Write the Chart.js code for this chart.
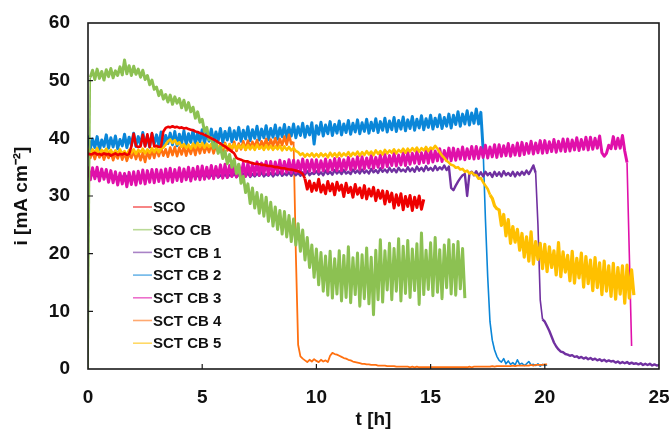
<!DOCTYPE html>
<html>
<head>
<meta charset="utf-8">
<script src="https://cdn.jsdelivr.net/npm/chart.js@4.4.1/dist/chart.umd.min.js"></script>
<style>
  html, body { margin: 0; padding: 0; background: #fff; }
  #wrap { width: 671px; height: 431px; }
</style>
</head>
<body>
<div id="wrap"><canvas id="chartdiv" width="671" height="431"></canvas></div>
<script>
// current density logged every 0.1 h, one row of values per hour
var stepH = 0.1;
var xTicks = [0, 5, 10, 15, 20, 25];
var yTicks = [0, 10, 20, 30, 40, 50, 60];

var labels = ['SCO', 'SCO CB', 'SCT CB 1', 'SCT CB 2', 'SCT CB 3', 'SCT CB 4', 'SCT CB 5'];

var sco = [
  37.4,37.2,37.3,37.5,37.2,37.3,37.1,37.4,37.2,37.3,
  37.0,37.2,37.4,37.1,37.3,37.2,37.4,37.1,37.3,38.6,
  40.8,38.7,38.5,38.6,40.6,38.6,40.7,38.5,40.9,38.6,
  38.7,38.5,38.6,41.2,41.8,42.0,41.9,42.1,41.9,42.0,
  41.8,41.9,41.7,41.8,41.6,41.5,41.4,41.2,41.1,40.9,
  40.8,40.6,40.4,40.2,40.0,39.8,39.6,39.3,39.1,38.8,
  38.6,38.3,38.0,37.7,37.4,36.6,36.4,36.3,36.1,36.0,
  36.0,35.8,35.7,35.6,35.6,35.5,35.4,35.4,35.3,35.2,
  35.2,35.1,35.0,35.0,34.9,34.8,34.8,34.7,34.6,34.6,
  34.5,34.4,34.3,34.1,33.8,33.0,31.2,32.6,30.8,32.2,
  31.0,32.9,30.7,31.9,30.4,32.5,30.9,32.1,30.2,32.4,
  31.0,31.9,29.9,32.2,30.6,31.5,29.8,32.0,30.3,31.4,
  29.7,31.8,29.5,31.2,30.0,31.5,29.2,31.0,29.6,30.9,
  28.6,30.8,29.0,30.5,27.9,30.2,28.4,30.4,27.6,29.9,
  28.2,30.1,27.5,29.8,28.0,30.0,27.7,29.4
];

var scoCb = [
  0.0,50.6,51.8,50.2,52.0,50.4,51.6,50.1,51.9,50.7,
  52.1,50.5,51.7,50.9,52.4,51.0,53.6,51.2,52.6,50.9,
  52.5,51.1,52.0,50.6,51.8,50.2,50.9,49.3,50.1,48.5,
  48.9,47.4,48.3,46.8,47.6,46.3,47.5,45.9,47.2,46.1,
  46.9,45.3,46.6,44.9,46.2,44.6,45.4,43.5,44.6,42.8,
  43.3,41.2,41.9,39.8,40.1,38.3,39.2,37.4,38.5,36.5,
  37.8,35.6,37.2,35.0,36.4,33.9,35.5,32.2,33.4,30.6,
  32.1,28.7,31.4,27.9,30.6,27.0,30.2,26.5,29.8,25.6,
  28.9,24.8,28.1,24.2,27.5,23.4,27.3,22.9,26.6,22.1,
  26.0,21.5,25.2,20.4,24.1,18.9,22.8,17.6,21.5,15.9,
  20.8,14.6,20.2,13.5,19.6,12.8,20.4,12.3,19.1,13.0,
  20.5,11.8,19.7,12.4,21.2,11.5,19.3,12.9,20.1,10.9,
  19.8,12.2,21.0,11.3,19.4,9.4,20.6,12.0,22.4,11.6,
  20.5,13.7,21.8,12.0,20.9,13.5,22.6,11.8,21.3,13.1,
  22.3,12.4,20.8,13.6,21.7,11.2,23.6,12.9,20.6,13.8,
  21.9,12.7,22.8,13.3,20.7,12.2,21.5,14.1,22.4,13.0,
  21.6,12.8,22.1,13.9,20.9,12.3
];

var sctCb1 = [
  33.8,33.2,33.9,33.3,33.7,33.1,33.8,33.4,33.6,33.0,
  33.7,33.2,33.5,33.0,33.6,33.1,33.8,33.2,33.5,33.0,
  33.6,33.1,33.7,33.2,33.5,33.0,33.8,33.3,33.6,33.1,
  33.7,33.2,33.6,33.0,33.8,33.3,33.5,33.1,33.7,33.2,
  33.6,33.1,33.8,33.3,33.5,33.0,33.7,33.2,33.6,33.1,
  33.8,33.2,33.6,33.1,33.7,33.3,33.9,33.2,33.6,33.3,
  33.8,33.2,33.7,33.4,33.9,33.3,33.7,33.2,33.9,33.4,
  34.0,33.3,33.8,33.4,33.9,33.5,34.1,33.4,33.8,33.5,
  34.0,33.4,33.9,33.6,34.2,33.5,33.9,33.6,34.1,33.5,
  34.2,33.6,34.0,33.5,34.1,33.7,34.3,33.6,34.0,33.8,
  34.3,33.7,34.1,33.6,34.4,33.8,34.2,33.7,34.5,33.9,
  34.3,33.8,34.5,33.9,34.2,33.8,34.6,34.0,34.4,33.9,
  34.6,34.0,34.4,33.9,34.7,34.1,34.5,34.0,34.8,34.2,
  34.6,34.1,34.9,34.2,34.7,34.1,34.9,34.3,34.6,34.2,
  35.0,34.3,34.8,34.2,35.1,34.4,34.9,34.3,35.2,34.5,
  34.9,34.4,35.2,34.5,35.0,34.6,35.3,34.5,35.1,31.4,
  31.0,31.8,32.5,33.1,33.6,33.8,30.0,33.9,34.2,33.6,
  34.3,33.5,34.1,33.4,34.2,33.6,34.0,33.3,34.2,33.5,
  34.1,33.4,34.3,33.6,34.0,33.5,34.2,33.4,34.1,33.6,
  34.2,33.7,34.4,33.8,34.5,35.3,34.0,25.0,12.0,8.6,
  8.2,7.4,6.6,5.6,4.6,3.9,3.4,3.0,2.9,2.6,
  2.5,2.3,2.4,2.1,2.2,1.9,2.1,1.8,2.0,1.7,
  1.9,1.6,1.8,1.5,1.7,1.4,1.6,1.3,1.5,1.3,
  1.4,1.1,1.3,1.0,1.2,1.0,1.2,0.9,1.1,0.9,
  1.0,0.8,1.0,0.7,0.9,0.7,0.9,0.6,0.8,0.6,
  0.7
];

var sctCb2 = [
  40.5,38.1,39.9,38.4,40.3,38.0,39.7,38.6,40.6,38.3,
  40.1,38.5,40.4,38.2,39.8,38.7,40.7,38.4,40.2,38.8,
  40.9,38.6,40.3,38.9,41.0,38.7,40.4,38.5,40.8,39.0,
  40.6,38.8,41.1,38.6,40.5,39.1,40.9,38.9,41.2,38.7,
  40.7,39.2,41.3,38.9,40.8,39.3,41.4,39.0,40.9,39.4,
  41.5,39.1,41.0,39.5,41.6,39.2,41.1,39.6,41.7,39.3,
  41.2,39.7,41.8,39.4,41.3,39.8,41.9,39.5,41.4,39.9,
  42.0,39.6,41.5,40.0,42.1,39.7,41.6,40.1,42.2,39.8,
  41.7,40.2,42.3,39.9,41.8,40.3,42.4,40.0,41.9,40.4,
  42.5,40.1,42.0,40.5,42.6,40.2,42.1,40.6,42.7,39.0,
  42.2,40.7,42.8,40.4,42.3,40.8,42.9,40.5,42.4,40.9,
  43.0,40.6,42.5,41.0,43.1,40.7,42.6,41.1,43.2,40.8,
  42.7,41.2,43.3,40.9,42.8,41.3,43.4,41.0,42.9,41.4,
  43.5,41.1,43.0,41.5,43.6,41.2,43.1,41.6,43.7,41.3,
  43.2,41.7,43.8,41.4,43.3,41.8,43.9,41.5,43.4,41.9,
  44.0,41.6,43.5,42.0,44.1,41.7,43.6,42.1,44.2,41.8,
  44.0,42.4,44.6,42.1,44.2,42.5,44.8,42.3,44.4,42.6,
  45.1,42.5,44.5,38.0,26.0,16.0,8.2,5.0,3.3,2.2,
  1.5,1.2,1.8,0.9,1.4,0.8,1.1,0.7,1.6,0.8,
  1.0,0.6,0.9,1.3,0.7,0.8,0.6,0.9,0.5,0.8,
  0.6,0.7
];

var sctCb3 = [
  35.1,32.8,34.9,33.0,35.0,32.6,34.7,32.9,34.6,32.4,
  34.4,32.3,34.2,31.9,34.0,32.1,33.9,31.6,34.1,32.0,
  34.2,31.9,34.3,32.2,34.5,32.1,34.4,32.4,34.6,32.3,
  34.6,32.5,34.5,32.2,34.7,32.6,34.8,32.4,34.6,32.7,
  34.9,32.5,34.7,32.8,35.0,32.6,34.8,32.9,35.1,32.8,
  35.2,32.9,35.0,33.1,35.3,33.0,35.1,33.3,35.4,33.1,
  35.5,33.2,35.3,33.4,35.6,33.3,35.4,33.6,35.7,33.4,
  35.7,33.5,35.6,33.7,35.9,33.6,35.7,33.8,36.0,33.7,
  36.0,33.8,35.9,34.0,36.2,33.9,36.0,34.1,36.3,34.0,
  36.2,34.1,36.1,34.2,36.4,34.1,36.2,34.3,36.3,34.2,
  36.3,34.2,36.1,34.4,36.4,34.3,36.2,34.5,36.5,34.4,
  36.5,34.4,36.3,34.6,36.7,34.5,36.4,34.7,36.8,34.6,
  36.8,34.7,36.6,34.9,37.0,34.8,36.7,35.0,37.1,34.9,
  37.2,35.1,37.0,35.3,37.4,35.2,37.1,35.4,37.5,35.3,
  37.6,35.5,37.4,35.7,37.8,35.6,37.5,35.8,37.9,35.7,
  38.0,35.9,37.8,36.1,38.2,36.0,37.9,36.2,38.3,36.1,
  38.3,36.2,38.1,36.4,38.5,36.3,38.2,36.5,38.6,36.4,
  38.6,36.5,38.4,36.7,38.8,36.6,38.5,36.8,38.9,36.7,
  38.9,36.9,38.7,37.0,39.1,36.9,38.8,37.1,39.2,37.0,
  39.3,37.2,39.1,37.4,39.5,37.3,39.2,37.5,39.6,37.4,
  39.6,37.5,39.4,37.7,39.8,37.6,39.5,37.8,39.9,37.7,
  39.9,37.8,39.7,38.0,40.1,37.9,39.8,38.1,40.2,38.0,
  40.2,38.1,40.0,38.3,40.4,37.5,36.9,37.4,38.8,38.2,
  40.3,38.2,40.0,38.3,40.5,37.8,35.8,20.0,4.0
];

var sctCb4 = [
  37.9,36.6,37.7,36.4,37.8,36.7,37.6,36.3,37.5,36.6,
  37.6,36.2,37.4,36.5,37.7,36.3,37.5,36.1,37.3,36.6,
  37.8,36.4,37.6,36.2,37.5,35.9,37.7,36.5,37.9,36.6,
  38.2,36.9,38.3,37.0,38.1,36.8,38.4,37.1,38.5,36.9,
  38.4,37.2,38.6,37.0,38.5,37.3,38.7,37.1,38.8,37.4,
  38.9,37.5,38.7,37.6,39.0,37.4,38.8,37.7,39.1,37.6,
  39.2,37.9,39.0,38.0,39.4,37.8,39.1,38.1,39.5,38.0,
  39.6,38.3,39.4,38.5,39.7,38.2,39.5,38.6,39.9,38.4,
  39.8,38.7,40.0,38.6,39.9,38.8,40.3,38.9,40.6,39.0,
  39.4,20.0,4.2,2.2,1.8,1.5,1.2,1.6,1.3,1.7,
  1.4,1.2,1.6,1.3,1.5,1.2,2.3,2.8,2.6,2.5,
  2.3,2.1,1.9,1.8,1.6,1.5,1.3,1.2,1.1,1.0,
  0.9,0.9,0.8,0.8,0.7,0.7,0.7,0.6,0.6,0.6,
  0.6,0.5,0.5,0.5,0.5,0.4,0.4,0.4,0.4,0.4,
  0.4,0.3,0.4,0.3,0.4,0.3,0.3,0.3,0.3,0.3,
  0.3,0.3,0.3,0.3,0.3,0.3,0.3,0.3,0.3,0.3,
  0.3,0.3,0.3,0.3,0.3,0.3,0.3,0.4,0.3,0.4,
  0.4,0.4,0.4,0.4,0.4,0.4,0.4,0.5,0.4,0.5,
  0.5,0.5,0.5,0.5,0.5,0.5,0.6,0.5,0.6,0.6,
  0.6,0.6,0.6,0.6,0.7,0.6,0.7,0.7,0.7,0.7,
  0.8,0.8
];

var sctCb5 = [
  38.2,37.4,38.1,37.5,38.3,37.3,38.0,37.6,38.2,37.4,
  38.0,37.2,37.9,37.4,38.1,37.3,37.8,37.1,38.0,37.5,
  38.1,37.3,38.0,37.6,38.2,37.4,38.1,37.5,38.3,37.6,
  38.4,37.6,38.2,38.4,38.9,39.5,39.8,39.2,39.7,39.0,
  39.3,38.5,39.0,38.3,38.9,38.2,39.1,38.4,39.2,38.5,
  39.2,38.4,39.1,38.5,39.0,38.3,39.1,38.2,38.9,38.4,
  39.0,38.2,38.9,38.3,39.0,38.1,38.8,38.3,38.9,38.0,
  38.8,38.1,38.7,38.0,38.9,38.2,38.6,38.0,38.8,38.1,
  38.7,38.0,38.6,38.1,38.7,37.9,38.6,38.0,38.5,37.9,
  38.3,37.8,37.6,37.1,37.4,36.8,37.3,36.9,37.4,36.8,
  37.3,36.8,37.4,36.9,37.3,36.7,37.5,36.9,37.4,36.8,
  37.5,36.9,37.4,37.0,37.6,36.9,37.5,37.1,37.7,37.0,
  37.6,37.1,37.8,37.2,37.7,37.1,37.9,37.3,37.8,37.2,
  38.0,37.4,37.9,37.5,38.1,37.4,38.0,37.6,38.2,37.5,
  38.2,37.7,38.3,37.8,38.4,37.7,38.3,37.9,38.5,37.8,
  38.4,38.1,38.7,38.2,37.6,37.0,36.6,36.1,35.8,35.4,
  35.3,34.9,35.0,34.6,34.7,34.2,34.4,33.9,34.1,33.7,
  33.6,33.0,33.1,32.4,31.8,31.2,30.2,29.6,28.3,27.8,
  27.6,24.9,26.8,23.1,25.9,21.8,24.7,22.0,24.2,20.6,
  23.5,19.4,22.9,18.7,23.8,18.2,22.1,19.0,21.8,17.4,
  21.6,16.9,21.2,17.6,20.5,16.3,21.9,16.0,20.3,16.8,
  19.7,15.3,20.4,14.9,19.2,15.8,20.1,14.2,19.5,14.8,
  18.9,13.6,19.3,14.1,18.4,12.9,18.7,13.5,17.9,12.6,
  18.3,12.1,17.6,13.0,17.9,11.4,18.0,12.3,17.2,12.8
];

var series = [sco, scoCb, sctCb1, sctCb2, sctCb3, sctCb4, sctCb5];
var lineColors = ['#ee0000', '#8cc152', '#7030a0', '#0a86d8', '#e010aa', '#ff7010', '#ffc000'];
// plain stroke width, plus a heavier stroke over the stretches where the trace is noisy
var baseWidths = [2.6, 1.6, 1.6, 1.6, 1.6, 1.8, 2.6];
var noisyWidths = [3.0, 3.0, 2.4, 3.0, 3.0, 2.6, 3.2];
var noisyRanges = [
  [[9.5, 99]],
  [[0.1, 99]],
  [[0, 19.6], [19.9, 99]],
  [[0, 17.25]],
  [[0, 23.55]],
  [[0, 9.0]],
  [[17.6, 99]]
];
var drawOrder = [0, 1, 4, 6, 3, 5, 2];

var FONT = '"Liberation Sans", Arial, sans-serif';

function toPoints(values) {
  return values.map(function (v, i) {
    return { x: Math.round(i * stepH * 10) / 10, y: v };
  });
}

function widthAt(i, t) {
  var hit = noisyRanges[i].some(function (r) { return t >= r[0] && t < r[1]; });
  return hit ? noisyWidths[i] : baseWidths[i];
}

var datasets = series.map(function (vals, i) {
  return {
    label: labels[i],
    data: toPoints(vals),
    borderColor: lineColors[i],
    borderWidth: baseWidths[i],
    borderJoinStyle: 'round',
    pointRadius: 0,
    tension: 0,
    fill: false,
    order: drawOrder[i],
    segment: {
      borderWidth: function (c) { return widthAt(i, c.p0.parsed.x); }
    }
  };
});

// frame around the plot plus short inward tick marks
var framePlugin = {
  id: 'frame',
  afterDatasetsDraw: function (chart) {
    var ctx = chart.ctx, a = chart.chartArea;
    var xs = chart.scales.x, ys = chart.scales.y;
    ctx.save();
    ctx.strokeStyle = '#1a1a1a';
    ctx.lineWidth = 1.6;
    ctx.strokeRect(a.left, a.top, a.right - a.left, a.bottom - a.top);
    ctx.lineWidth = 1.2;
    ctx.beginPath();
    xTicks.slice(1, -1).forEach(function (t) {
      var px = xs.getPixelForValue(t);
      ctx.moveTo(px, a.bottom);
      ctx.lineTo(px, a.bottom - 5);
    });
    yTicks.slice(1, -1).forEach(function (t) {
      var py = ys.getPixelForValue(t);
      ctx.moveTo(a.left, py);
      ctx.lineTo(a.left + 5, py);
    });
    ctx.stroke();
    ctx.restore();
  }
};

// legend sitting inside the plot, lower left
var legendPlugin = {
  id: 'insideLegend',
  afterDraw: function (chart) {
    var ctx = chart.ctx, a = chart.chartArea;
    var x0 = a.left + 45, y0 = a.top + 184, gap = 22.7;
    ctx.save();
    ctx.font = 'bold 15px ' + FONT;
    ctx.textBaseline = 'middle';
    labels.forEach(function (name, i) {
      var y = y0 + i * gap;
      ctx.globalAlpha = 0.6;
      ctx.strokeStyle = lineColors[i];
      ctx.lineWidth = 1.6;
      ctx.beginPath();
      ctx.moveTo(x0, y);
      ctx.lineTo(x0 + 19, y);
      ctx.stroke();
      ctx.globalAlpha = 1;
      ctx.fillStyle = '#111';
      ctx.fillText(name, x0 + 20, y + 1);
    });
    ctx.restore();
  }
};

var ctx = document.querySelector('#chartdiv');

var myChart = new Chart(ctx, {
  type: 'line',
  data: { datasets: datasets },
  options: {
    responsive: false,
    animation: false,
    events: [],
    layout: { padding: { top: 23, right: 12, left: 0, bottom: 0 } },
    plugins: {
      legend: { display: false },
      tooltip: { enabled: false }
    },
    scales: {
      x: {
        type: 'linear',
        min: 0,
        max: 25,
        afterFit: function (s) { s.height = 62; s.paddingLeft = 0; s.paddingRight = 0; },
        afterBuildTicks: function (s) { s.ticks = xTicks.map(function (v) { return { value: v }; }); },
        grid: { display: false, drawTicks: false },
        border: { display: false },
        ticks: { color: '#111', padding: 17, font: { family: FONT, size: 19, weight: 'bold' } },
        title: {
          display: true,
          text: 't [h]',
          color: '#111',
          padding: { top: 0, bottom: 0 },
          font: { family: FONT, size: 19, weight: 'bold' }
        }
      },
      y: {
        min: 0,
        max: 60,
        afterFit: function (s) { s.width = 88; s.paddingTop = 0; s.paddingBottom = 0; },
        afterBuildTicks: function (s) { s.ticks = yTicks.map(function (v) { return { value: v }; }); },
        grid: { display: false, drawTicks: false },
        border: { display: false },
        ticks: { color: '#111', padding: 18, font: { family: FONT, size: 19, weight: 'bold' } },
        title: {
          display: true,
          text: 'i [mA cm\u207B\u00B2]',
          color: '#111',
          padding: { top: 10, bottom: 0 },
          font: { family: FONT, size: 19, weight: 'bold' }
        }
      }
    }
  },
  plugins: [framePlugin, legendPlugin]
});
</script>
</body>
</html>
